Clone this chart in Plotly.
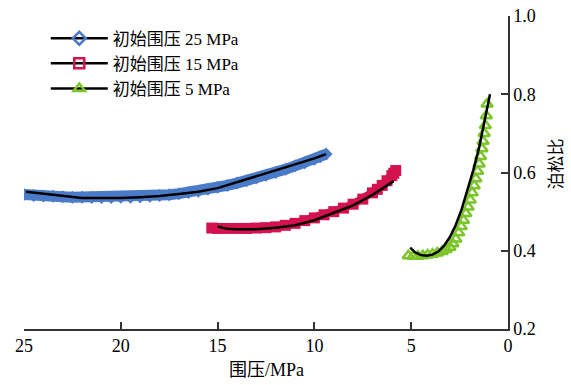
import plotly.graph_objects as go

# ---- data ----
names = ["初始围压 25 MPa", "初始围压 15 MPa", "初始围压 5 MPa"]
colors = ["#4a7bc8", "#d3124f", "#7cc52b"]

# 25 MPa markers
b_x = [25.0, 24.5, 24.0, 23.5, 23.0, 22.5, 22.0, 21.5, 21.0, 20.5, 20.0, 19.5, 19.0, 18.5, 18.0,
       17.5, 17.0, 16.5, 16.0, 15.5, 15.0, 14.5, 14.0, 13.5, 13.0, 12.5, 12.0, 11.5, 11.0, 10.5,
       10.0, 9.7, 9.4]
b_y = [0.544, 0.541, 0.540, 0.539, 0.538, 0.537, 0.537, 0.536, 0.536, 0.536, 0.537, 0.537, 0.538,
       0.539, 0.541, 0.543, 0.546, 0.549, 0.552, 0.557, 0.562, 0.567, 0.573, 0.579, 0.586, 0.593,
       0.600, 0.608, 0.617, 0.625, 0.634, 0.640, 0.647]
# 25 MPa black line
bl_x = [24.9, 24.0, 23.0, 22.0, 21.0, 20.0, 19.0, 18.0, 17.0, 16.0, 15.0, 14.0, 13.0, 12.0, 11.0, 10.0, 9.4]
bl_y = [0.551, 0.546, 0.541, 0.535, 0.535, 0.535, 0.537, 0.540, 0.545, 0.551, 0.560, 0.575, 0.589,
        0.604, 0.620, 0.636, 0.647]

# 15 MPa markers
r_x = [15.3, 15.0, 14.5, 14.0, 13.5, 13.0, 12.5, 12.0, 11.5, 11.0, 10.5, 10.0, 9.5, 9.0, 8.5, 8.0,
       7.5, 7.0, 6.75, 6.5, 6.25, 6.0, 5.9, 5.8]
r_y = [0.458, 0.457, 0.457, 0.457, 0.457, 0.458, 0.459, 0.461, 0.465, 0.470, 0.477, 0.484, 0.492,
       0.500, 0.509, 0.519, 0.532, 0.548, 0.557, 0.567, 0.579, 0.592, 0.598, 0.605]
# 15 MPa black line
rl_x = [15.0, 14.5, 14.0, 13.0, 12.0, 11.0, 10.0, 9.0, 8.0, 7.0, 6.5, 6.0, 5.9]
rl_y = [0.462, 0.456, 0.455, 0.455, 0.459, 0.465, 0.478, 0.496, 0.516, 0.543, 0.558, 0.574, 0.578]

# 5 MPa markers
g_x = [5.15, 4.9, 4.65, 4.4, 4.15, 3.9, 3.65, 3.4, 3.2, 3.0, 2.85, 2.7, 2.55, 2.42, 2.3, 2.18,
       2.06, 1.95, 1.85, 1.75, 1.66, 1.57, 1.49, 1.42, 1.35, 1.29, 1.23, 1.17, 1.12, 1.08]
g_y = [0.387, 0.386, 0.386, 0.387, 0.389, 0.391, 0.394, 0.398, 0.403, 0.409, 0.418, 0.430, 0.446,
       0.462, 0.478, 0.495, 0.512, 0.530, 0.548, 0.566, 0.584, 0.603, 0.622, 0.641, 0.661, 0.680,
       0.700, 0.720, 0.745, 0.775]
# 5 MPa black line
gl_x = [5.05, 4.8, 4.5, 4.2, 3.9, 3.6, 3.3, 3.0, 2.7, 2.4, 2.1, 1.8, 1.5, 1.25, 1.0, 0.93]
gl_y = [0.408, 0.396, 0.389, 0.387, 0.390, 0.398, 0.413, 0.435, 0.466, 0.505, 0.555, 0.605, 0.662,
        0.722, 0.785, 0.800]

x_ticks = [25, 20, 15, 10, 5, 0]
y_ticks = [0.2, 0.4, 0.6, 0.8, 1.0]
x_title = "围压/MPa"
y_title = "泊松比"

FONT = "Liberation Serif, Times New Roman, Noto Sans CJK SC"

fig = go.Figure()

# marker bands
fig.add_trace(go.Scatter(x=b_x, y=b_y, mode="lines+markers", showlegend=False,
                         line=dict(color=colors[0], width=11),
                         marker=dict(symbol="diamond", size=10, color=colors[0])))
fig.add_trace(go.Scatter(x=r_x, y=r_y, mode="lines+markers", showlegend=False,
                         line=dict(color=colors[1], width=8),
                         marker=dict(symbol="square", size=11, color=colors[1])))
fig.add_trace(go.Scatter(x=g_x, y=g_y, mode="markers", showlegend=False,
                         marker=dict(symbol="triangle-up-open", size=10, color=colors[2],
                                     line=dict(width=2.5, color=colors[2]))))
# black lines
for lx, ly in [(bl_x, bl_y), (rl_x, rl_y), (gl_x, gl_y)]:
    fig.add_trace(go.Scatter(x=lx, y=ly, mode="lines", showlegend=False,
                             line=dict(color="black", width=2.5)))

# legend entries
syms = ["diamond-open", "square-open", "triangle-up-open"]
for i in range(3):
    fig.add_trace(go.Scatter(x=[None], y=[None], mode="lines+markers", name=names[i],
                             line=dict(color="black", width=2.5),
                             marker=dict(symbol=syms[i], size=10, color=colors[i],
                                         line=dict(width=2.5, color=colors[i]))))

fig.update_layout(
    width=571, height=385,
    margin=dict(l=24, r=63, t=16, b=56),
    paper_bgcolor="white", plot_bgcolor="white",
    font=dict(family=FONT, size=18, color="black"),
    showlegend=True,
    legend=dict(x=0.045, y=0.985, xanchor="left", yanchor="top",
                font=dict(family=FONT, size=17), bgcolor="rgba(0,0,0,0)",
                itemwidth=57, tracegroupgap=0),
    xaxis=dict(range=[25, 0], tickvals=x_ticks, ticktext=[str(v) for v in x_ticks],
               ticks="inside", ticklen=7, tickwidth=1.5, tickcolor="#333",
               showline=True, linecolor="#333", linewidth=1.5, showgrid=False, zeroline=False,
               automargin=False),
    yaxis=dict(range=[0.2, 1.0], side="right", tickvals=y_ticks,
               ticktext=["0.2", "0.4", "0.6", "0.8", "1.0"],
               ticks="inside", ticklen=7, tickwidth=1.5, tickcolor="#333",
               showline=True, linecolor="#333", linewidth=1.5, showgrid=False, zeroline=False,
               automargin=False),
    annotations=[
        dict(text=y_title, textangle=-90, xref="paper", yref="paper",
             x=1.1, y=0.527, xanchor="center", yanchor="middle",
             showarrow=False, font=dict(family=FONT, size=17)),
        dict(text=x_title, xref="paper", yref="paper",
             x=0.5, y=-0.131, xanchor="center", yanchor="middle",
             showarrow=False, font=dict(family=FONT, size=18)),
    ],
)

fig.write_html("out.html")
